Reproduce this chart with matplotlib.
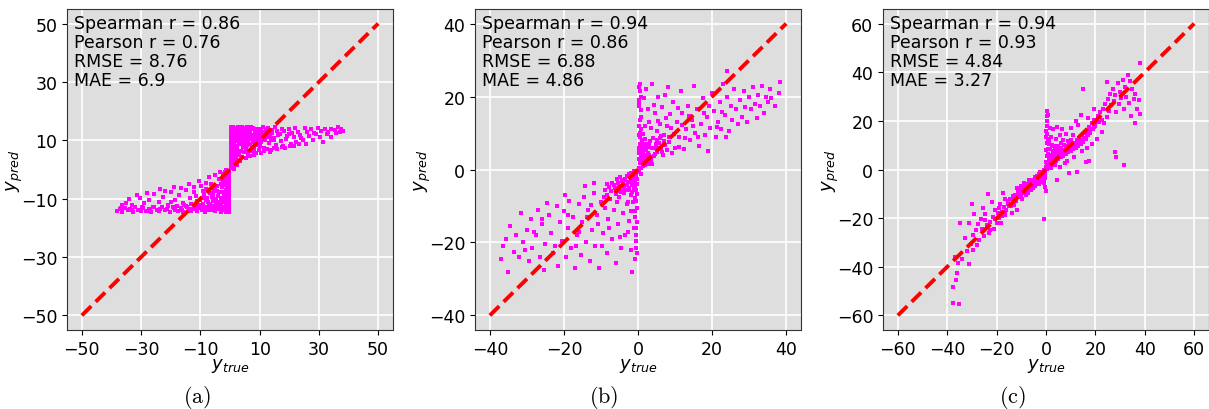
import numpy as np
import matplotlib.pyplot as plt

# panel (a): points (y_true, y_pred)
a_strip = [(0.2,0.4),(0.8,0.9),(0.4,1.5),(1.1,1.9),(0.6,2.6),(0.2,3.1),(0.9,3.6),(0.5,4.2),(1.2,4.7),(0.3,5.3),
           (0.8,5.9),(0.5,6.4),(1.1,6.9),(0.2,7.5),(0.7,8.1),(1.0,8.6),(0.4,9.2),(0.9,9.8),(0.2,10.3),(0.6,10.9),
           (1.2,11.4),(0.4,12.0),(0.8,12.5),(0.3,13.1),(1.0,13.6),(0.5,14.2),(0.9,14.5),(1.3,0.2),(0.7,1.2),(0.3,2.2),
           (1.2,3.2),(0.6,5.0),(1.0,5.5),(0.2,6.1),(0.9,7.2),(0.5,7.8),(1.3,9.0),(0.6,9.5),(0.3,11.2),(1.1,12.2),
           (0.7,13.3),(0.2,14.4),(1.2,10.2),(0.4,0.8),(1.0,2.4),(0.8,4.5),(0.4,8.4),(1.1,13.9),
           (-0.2,-0.5),(-0.8,-1.0),(-0.4,-1.6),(-1.1,-2.1),(-0.6,-2.7),(-0.2,-3.3),(-0.9,-3.8),(-0.5,-4.4),(-1.2,-4.9),
           (-0.3,-5.5),(-0.8,-6.0),(-0.5,-6.6),(-1.1,-7.1),(-0.2,-7.7),(-0.7,-8.2),(-1.0,-8.8),(-0.4,-9.3),(-0.9,-9.9),
           (-0.2,-10.4),(-0.6,-11.0),(-1.2,-11.5),(-0.4,-12.1),(-0.8,-12.6),(-0.3,-13.2),(-1.0,-13.7),(-0.5,-14.3),
           (-0.9,-14.6),(-1.3,-0.3),(-0.7,-1.3),(-0.3,-2.4),(-1.2,-3.0),(-0.6,-5.1),(-1.0,-5.7),(-0.2,-6.3),(-0.9,-7.4),
           (-0.5,-8.0),(-1.3,-9.1),(-0.6,-9.6),(-0.3,-11.3),(-1.1,-12.3),(-0.7,-13.4),(-0.2,-14.5),(-1.2,-10.1),
           (-0.4,-0.9),(-1.0,-2.5),(-0.8,-4.6),(-0.4,-8.5),(-1.1,-14.0),(-1.4,-13.1),(-1.4,-11.9),(-1.5,-14.4)]
a_pos = [(1.5,14.2),(2.1,13.5),(2.8,14.4),(3.3,12.8),(3.9,13.9),(4.5,14.1),(5.2,13.2),(5.8,14.5),(6.4,12.5),(7.1,13.8),
         (7.7,14.3),(8.4,13.1),(9.0,14.0),(9.8,12.7),(10.5,13.6),(11.2,14.4),(12.0,13.0),(12.8,14.2),(13.5,12.2),(14.3,13.7),
         (15.1,14.5),(16.0,13.1),(16.8,12.0),(17.5,14.0),(18.3,13.3),(19.2,11.5),(20.0,13.8),(21.0,12.6),(22.0,14.2),(23.1,13.0),
         (24.0,10.8),(25.2,14.3),(26.1,12.9),(27.3,13.9),(28.5,12.4),(29.6,14.1),(30.8,13.2),(31.9,13.9),(33.0,12.8),(34.2,14.0),
         (35.3,13.5),(36.5,14.4),(37.6,13.8),(38.0,13.2),
         (1.8,10.5),(2.4,8.2),(3.0,11.7),(3.6,6.5),(4.2,9.4),(4.9,11.0),(5.5,7.3),(6.1,10.1),(6.8,8.7),(7.4,11.8),
         (8.0,6.9),(8.7,9.8),(9.4,12.0),(10.1,8.1),(10.8,10.6),(11.6,7.5),(12.4,11.3),(13.1,9.0),(13.9,6.8),(14.7,10.8),
         (15.5,8.4),(16.3,11.7),(17.2,9.6),(18.0,7.9),(18.9,10.4),(19.8,12.3),(20.6,8.8),(21.5,11.0),(22.4,9.3),(23.5,11.9),
         (24.6,10.1),(25.5,8.9),(26.7,11.4),(27.9,10.0),(29.0,12.0),(30.3,11.0),(31.4,9.3),(32.6,12.1),(34.0,11.2),(35.8,12.6),
         (37.0,12.9),
         (2.0,3.5),(2.7,5.1),(3.4,2.8),(4.0,4.3),(4.7,6.0),(5.3,3.9),(6.0,5.4),(6.6,4.6),(7.3,6.2),(8.1,5.0),
         (8.9,5.8),(9.7,6.6),(10.6,5.6),(11.5,6.4),(12.5,7.0),(13.6,6.1),(14.8,7.3),(16.0,7.0),(17.4,7.8),(18.7,7.5),
         (20.2,8.1),(21.7,8.0),(23.2,8.6),
         (1.2,12.0),(1.4,7.9),(1.6,5.5),(2.2,12.6),(2.6,9.9),(3.1,13.0),(3.5,10.7),(3.8,8.6),(4.4,12.3),(5.0,9.0),
         (5.7,12.1),(6.3,13.5),(7.0,10.4),(7.6,9.3),(8.3,12.4),(8.8,10.9),(9.5,13.2),(10.3,11.6),(11.0,12.9),(11.9,10.0),
         (12.7,12.7),(13.4,11.1),(14.2,12.5),(15.0,10.0),(1.3,3.0),(1.7,1.8),(2.3,6.8),(1.1,9.2),(1.9,14.0),(2.5,11.2),
         (3.2,9.0),(4.1,14.4),(4.8,7.9),(5.9,11.5),(6.9,12.2),(8.6,13.9),(9.9,10.3),
         (1.4,13.2),(2.0,11.4),(2.7,13.9),(3.3,10.2),(4.0,12.9),(4.6,10.6),(5.3,14.0),(5.9,9.5),(6.6,11.9),(7.2,14.4),
         (7.9,10.8),(8.5,12.0),(9.2,9.1),(10.0,13.9),(10.7,11.4),(1.3,6.5),(1.9,4.6),(2.5,7.4),(3.1,5.8),(3.7,11.4),
         (4.3,7.7),(5.0,12.7),(5.6,8.5),(6.2,6.2),(6.8,13.1),(7.5,7.6),(8.2,10.0),(9.0,8.3),(9.6,11.1),(10.4,9.3),
         (11.3,11.9),(12.1,13.8),(13.0,13.4),(13.8,10.2),(1.6,2.6),(2.4,1.4),(1.2,1.0)]
a_neg = [(-38.0,-14.2),(-37.1,-13.6),(-36.3,-14.5),(-35.4,-13.1),(-34.5,-14.0),(-33.6,-13.5),(-32.8,-14.4),(-31.9,-12.9),
         (-31.0,-13.9),(-30.1,-14.3),(-29.2,-13.2),(-28.4,-14.1),(-27.5,-13.6),(-26.6,-14.5),(-25.7,-12.8),(-24.8,-13.9),
         (-23.9,-14.3),(-23.0,-13.0),(-22.1,-14.0),(-21.2,-13.5),(-20.3,-14.4),(-19.4,-12.7),(-18.5,-13.8),(-17.6,-14.2),
         (-16.7,-13.1),(-15.8,-14.5),(-14.9,-12.5),(-14.0,-13.7),(-13.1,-14.3),(-12.2,-13.0),(-11.3,-14.1),(-10.4,-12.6),
         (-9.5,-13.9),(-8.6,-14.4),(-7.7,-13.2),(-6.8,-14.0),(-5.9,-12.8),(-5.0,-14.3),(-4.1,-13.5),(-3.2,-14.5),
         (-2.3,-12.9),(-1.5,-14.1),
         (-35.0,-11.6),(-33.2,-12.2),(-30.5,-9.8),(-29.0,-11.5),(-27.2,-10.6),(-25.5,-8.4),(-24.0,-11.2),(-22.6,-9.5),
         (-21.0,-12.0),(-19.8,-7.6),(-18.6,-10.3),(-17.3,-8.8),(-16.0,-11.4),(-14.8,-6.9),(-13.5,-9.9),(-12.3,-7.8),
         (-11.0,-10.9),(-9.8,-5.6),(-8.7,-8.5),(-7.5,-11.3),(-6.5,-4.8),(-5.5,-7.3),(-4.6,-10.2),(-3.7,-3.2),
         (-2.8,-6.1),(-2.0,-8.9),(-1.2,-2.5),(-26.0,-12.7),(-20.0,-11.0),(-15.5,-12.3),(-10.0,-12.0),(-6.0,-12.4),
         (-3.0,-11.8),(-31.5,-8.7),(-28.0,-7.9),(-23.5,-6.8),(-19.0,-5.9),(-14.0,-4.9),(-10.5,-3.9),(-7.0,-2.7),
         (-5.0,-1.8),(-3.5,-1.0),(-12.0,-6.0),(-8.0,-4.5),(-4.5,-5.5),(-2.5,-4.0),(-1.8,-0.8),(-16.5,-6.3),
         (-22.0,-7.5),(-34.0,-10.0),(-36.5,-12.0),(-8.2,-10.5),(-11.5,-9.0),(-6.2,-9.3),(-3.8,-7.8),(-5.1,-6.5),
         (-2.2,-10.8),(-4.0,-12.0),(-7.2,-7.0),(-9.0,-11.8),(-13.0,-11.7),(-17.8,-12.5),(-1.7,-13.2),(-2.6,-13.8),
         (-3.6,-12.6),(-4.8,-13.4),(-1.9,-5.2),(-3.1,-9.6),(-6.6,-13.1),(-8.1,-13.6),
         (-1.4,-12.4),(-2.0,-11.3),(-2.7,-10.1),(-3.3,-13.0),(-4.0,-9.0),(-4.6,-11.6),(-5.3,-13.8),(-5.9,-10.7),
         (-6.6,-8.1),(-7.2,-12.1),(-7.9,-9.6),(-8.5,-12.9),(-9.2,-7.4),(-10.0,-10.3),(-10.7,-13.3),(-1.3,-7.0),
         (-1.9,-4.4),(-2.5,-7.6),(-3.1,-5.0),(-3.7,-11.0),(-4.3,-7.3),(-5.0,-12.5),(-5.6,-8.6),(-6.2,-6.1),
         (-6.8,-11.7),(-7.5,-13.9),(-8.2,-6.6),(-9.0,-9.9),(-9.6,-13.0),(-11.8,-12.0),(-12.6,-13.5),(-14.5,-13.0),
         (-16.2,-13.9),(-18.8,-13.3),(-20.8,-12.5),(-23.5,-13.6),(-27.0,-14.2),(-29.8,-12.8),(-33.0,-13.8),
         (-36.8,-13.2),(-1.6,-3.2),(-2.2,-1.6)]

# panel (b)
b_pos = [(0.3,0.5),(0.5,1.8),(0.7,3.2),(0.4,4.5),(0.9,5.6),(1.2,2.4),(1.5,4.0),(1.8,1.2),(2.1,5.3),(2.4,3.0),
         (2.8,6.2),(3.1,4.1),(3.5,2.2),(3.9,5.8),(4.3,3.6),(4.8,6.9),(5.2,4.8),(5.7,7.3),(6.2,5.5),(6.8,3.9),
         (7.3,6.6),(1.0,7.5),(0.6,8.8),(1.4,9.6),(0.8,11.0),(0.5,13.5),(0.7,16.2),(0.4,19.0),(0.6,21.5),(0.5,23.5),
         (0.3,-0.5),(0.8,-1.2),(1.6,7.0),(2.0,8.3),(2.6,1.5),(3.3,7.8),(4.0,8.6),(0.2,2.8),(0.9,0.3),(1.1,6.3),
         (0.3,6.0),(0.6,7.0),(0.2,9.5),(1.3,4.8),(1.9,3.5),(2.3,6.9),(0.4,12.0),(0.3,17.5),(0.7,20.0),(0.4,22.5),
         (0.5,2.5),(0.9,4.2),(1.3,1.0),(1.7,5.8),(2.2,2.2),(2.6,4.6),(3.0,6.8),(3.4,3.3),(3.8,1.6),(4.2,6.0),
         (4.6,4.2),(5.0,8.0),(5.4,6.0),(6.0,8.5),(6.5,4.7),(7.0,7.8),(7.8,5.3),(8.3,9.0),(0.4,5.2),(0.7,6.4),
         (1.0,8.2),(0.5,10.0),(0.8,14.5),(0.4,18.0),
         (1.5,19.5),(2.2,22.0),(3.0,13.0),(3.8,23.5),(4.5,15.5),(5.0,10.5),(5.5,20.0),(6.0,12.5),(6.5,17.0),(7.0,9.5),
         (7.5,14.0),(8.0,22.5),(8.5,7.5),(9.0,11.5),(9.5,18.5),(10.0,6.0),(10.5,13.0),(11.0,9.0),(11.5,21.5),(12.0,15.5),
         (12.5,5.5),(13.0,11.0),(13.5,17.5),(14.0,8.0),(14.5,13.5),(15.0,23.0),(15.5,10.0),(16.0,16.5),(16.5,6.5),(17.0,12.5),
         (17.5,19.5),(18.0,9.5),(18.5,14.5),(19.0,5.0),(19.5,11.5),(20.0,21.0),(20.5,16.0),(21.0,9.0),(21.5,13.0),(22.0,18.5),
         (22.5,11.0),(23.0,23.5),(23.5,15.0),(24.0,20.0),(24.5,10.5),(25.0,17.5),(25.5,13.5),(26.0,22.0),(26.5,16.5),(27.0,12.5),
         (27.5,19.0),(28.0,14.5),(28.5,21.5),(29.0,17.0),(29.5,13.0),(30.0,20.0),(30.5,16.5),(31.0,22.5),(31.5,18.0),(32.0,14.0),
         (32.5,20.5),(33.0,17.5),(33.5,23.0),(34.0,15.5),(34.5,20.0),(35.0,18.5),(35.5,22.0),(36.0,19.5),(37.0,17.5),(38.0,21.0),
         (38.2,24.0),(24.0,27.0),(3.5,11.5),(4.2,17.8),(5.3,13.2),(6.3,9.1),(7.7,11.8),(8.7,15.1),(9.8,9.7),(10.8,16.9),
         (11.8,12.3),(12.8,8.6),(13.8,14.8),(14.8,11.9),(16.3,8.8),(17.8,15.6),(19.3,17.4),(21.3,11.7),(22.8,15.9),(9.2,4.6),
         (11.2,6.3),(7.2,20.5),(2.8,16.5),(1.9,12.0),(18.8,5.2),(23.8,9.0)]
b_neg = [(-0.3,-0.6),(-0.6,-2.0),(-0.9,-3.4),(-1.2,-1.5),(-1.5,-4.2),(-1.9,-2.7),(-2.3,-5.0),(-2.7,-3.3),(-3.1,-1.9),
         (-3.5,-5.6),(-4.0,-3.9),(-4.5,-6.3),(-5.0,-4.4),(-5.6,-2.6),(-6.2,-5.2),(-6.9,-3.6),(-0.5,-5.5),(-0.8,-7.8),
         (-0.4,-10.5),(-0.7,-13.0),(-0.5,-16.0),(-0.6,-19.5),(-0.4,-23.0),(-0.8,-24.5),(-1.3,-8.8),(-2.0,-7.0),(-2.8,-9.0),
         (-1.0,-0.4),(-0.2,-2.5),(-1.7,-6.2),(-0.3,-4.0),(-1.1,-5.0),(-2.5,-1.2),(-3.8,-2.8),(-4.8,-2.0),(-0.6,-8.5),
         (-0.5,-1.3),(-0.9,-2.6),(-1.3,-3.8),(-1.8,-1.0),(-2.2,-3.4),(-2.6,-5.7),(-3.0,-4.2),(-3.4,-2.5),(-3.9,-5.0),
         (-4.4,-3.2),(-4.9,-5.8),(-5.4,-3.6),(-6.0,-6.6),(-6.6,-4.3),(-7.2,-6.0),(-7.8,-4.8),(-8.5,-6.9),(-9.2,-7.5),
         (-0.4,-6.8),(-0.7,-11.5),(-0.3,-14.5),(-0.5,-18.0),(-0.6,-21.5),(-0.7,-4.5),
         (-37.0,-24.5),(-36.5,-21.0),(-35.5,-19.0),(-35.0,-28.0),(-34.5,-15.5),(-33.5,-22.5),(-33.0,-18.0),(-32.0,-24.0),
         (-31.5,-12.0),(-31.0,-20.0),(-30.0,-16.5),(-29.5,-25.0),(-29.0,-13.5),(-28.5,-21.5),(-27.5,-18.0),(-27.0,-11.0),
         (-26.5,-24.0),(-26.0,-15.0),(-25.5,-27.5),(-25.0,-20.5),(-24.0,-12.5),(-23.5,-17.5),(-23.0,-23.0),(-22.0,-10.0),
         (-21.5,-26.5),(-21.0,-14.5),(-20.5,-19.5),(-20.0,-11.5),(-19.5,-24.0),(-19.0,-16.0),(-18.5,-8.5),(-18.0,-21.5),
         (-17.5,-13.0),(-17.0,-27.0),(-16.5,-18.0),(-16.0,-9.5),(-15.5,-23.5),(-15.0,-14.5),(-14.5,-7.5),(-14.0,-20.0),
         (-13.5,-11.0),(-13.0,-25.0),(-12.5,-16.5),(-12.0,-6.5),(-11.5,-21.0),(-11.0,-12.5),(-10.5,-27.0),(-10.0,-9.0),
         (-9.5,-17.5),(-9.0,-5.5),(-8.5,-23.0),(-8.0,-13.5),(-7.5,-8.0),(-7.0,-19.0),(-6.5,-11.0),(-6.0,-25.5),
         (-5.5,-15.0),(-5.0,-7.5),(-4.5,-21.5),(-4.0,-12.0),(-3.5,-18.0),(-3.0,-9.5),(-2.5,-14.0),(-2.0,-22.0),
         (-1.5,-28.0),(-1.0,-16.0),(-1.8,-11.5),(-24.5,-9.2),(-28.0,-17.0),(-30.5,-22.0),(-22.5,-21.0),(-18.8,-12.5),
         (-15.8,-17.0),(-12.8,-9.8),(-10.8,-15.0),(-8.8,-10.5),(-7.8,-16.0),(-5.8,-9.0),(-4.8,-18.5),(-3.8,-6.5),
         (-2.8,-17.0),(-9.8,-21.0),(-13.8,-13.0),(-16.8,-21.0),(-19.8,-7.0),(-25.8,-13.5),(-11.8,-3.8),(-8.3,-4.0),
         (-14.2,-4.5)]

# panel (c)
c_neg = [(-0.3,-0.5),(-0.6,-1.2),(-0.9,-0.3),(-1.2,-2.0),(-1.5,-1.0),(-1.8,-2.8),(-2.1,-1.5),(-2.5,-3.2),(-2.9,-2.0),
         (-3.3,-4.0),(-3.7,-2.6),(-4.1,-4.6),(-4.6,-3.5),(-5.0,-5.5),(-5.5,-4.2),(-6.0,-6.3),(-6.5,-5.0),(-7.0,-7.2),
         (-7.5,-5.9),(-8.0,-8.0),(-8.5,-6.7),(-9.0,-9.1),(-9.5,-7.5),(-10.0,-10.0),(-10.5,-8.3),(-11.0,-11.2),(-11.5,-9.4),
         (-12.0,-12.0),(-12.5,-10.5),(-13.0,-13.3),(-13.5,-11.0),(-14.0,-14.2),(-14.5,-12.3),(-15.0,-15.0),(-15.5,-13.0),
         (-16.0,-16.5),(-16.5,-12.0),(-17.0,-15.5),(-17.5,-9.5),(-18.0,-17.5),(-18.5,-14.0),(-19.0,-20.0),(-19.5,-18.0),
         (-20.0,-22.0),(-20.5,-16.5),(-21.0,-24.5),(-21.5,-19.5),(-22.0,-13.5),(-22.5,-21.5),(-23.0,-26.0),(-23.5,-10.0),
         (-24.0,-23.0),(-24.5,-18.5),(-25.0,-27.5),(-25.5,-16.0),(-26.0,-24.5),(-26.5,-20.5),(-27.0,-29.0),(-27.5,-22.5),
         (-28.0,-31.0),(-28.5,-25.0),(-29.0,-18.5),(-29.5,-27.0),(-30.0,-14.0),(-30.5,-30.5),(-31.0,-22.0),(-32.0,-33.5),
         (-33.0,-28.0),(-34.0,-37.0),(-35.0,-22.0),(-35.5,-38.5),(-36.0,-42.5),(-36.5,-45.5),(-37.0,-36.0),(-37.5,-48.5),
         (-37.5,-55.0),(-35.2,-55.2),(-31.0,-39.0),(-29.5,-33.0),(-16.8,-18.8),(-18.3,-22.0),(-13.8,-18.0),(-11.8,-16.5),
         (-0.4,-3.5),(-0.7,-5.5),(-0.5,-7.0),(-0.3,-2.2),(-1.0,-4.0),(-1.4,-5.2),(-2.2,-4.5),(-3.0,-6.0),(-3.8,-5.5),
         (-4.5,-6.8),(-5.2,-7.8),(-6.2,-8.5),(-7.2,-9.5),(-8.3,-10.5),(-6.8,-4.2),(-8.8,-5.5),(-10.2,-6.8),(-11.8,-7.5),
         (-9.8,-12.2),(-12.8,-14.5),(-1.0,-20.5),(-0.2,-9.0),(-0.8,-2.5),(-1.6,-3.4),(-2.4,-1.0),(-3.4,-2.5),(-4.3,-3.0),
         (-5.3,-6.5),(-6.3,-7.0),(-7.8,-6.5),(-9.2,-8.3),(-10.8,-9.5),
         (-0.5,-1.5),(-1.1,-2.9),(-1.7,-3.9),(-2.3,-2.4),(-2.8,-4.8),(-3.5,-3.4),(-4.2,-5.6),(-4.9,-4.5),(-5.7,-6.9),
         (-6.4,-5.8),(-7.1,-8.3),(-7.9,-7.3),(-8.7,-9.6),(-9.4,-8.4),(-10.3,-11.1),(-11.2,-10.0),(-12.2,-13.1),
         (-13.2,-12.0),(-14.3,-15.2),(-15.3,-14.2),(-16.5,-17.5),(-17.8,-19.0),(-19.2,-16.0),(-20.8,-20.5),
         (-22.8,-24.8),(-24.8,-20.8)]
c_pos = [(0.2,1.0),(0.2,3.0),(0.3,5.5),(0.2,8.0),(0.3,11.0),(0.2,13.5),(0.2,16.0),(0.3,18.0),(0.3,22.0),(0.4,24.0),
         (0.8,22.5),(0.6,20.0),
         (0.5,0.3),(0.9,1.5),(1.2,0.8),(1.5,2.5),(1.8,1.2),(2.1,3.3),(2.4,2.0),(2.8,4.0),(3.2,2.7),(3.6,5.0),(4.0,3.5),
         (4.5,5.8),(5.0,4.2),(5.5,6.5),(6.0,5.0),(6.5,7.2),(7.0,5.7),(7.5,8.0),(8.0,6.3),(8.5,8.8),(9.0,7.0),(9.5,9.5),
         (10.0,7.6),(10.5,10.2),(11.0,8.3),(11.5,11.0),(12.0,9.0),(12.5,12.0),(13.0,9.8),(13.5,13.0),(14.0,10.5),
         (14.5,14.0),(15.0,11.5),(15.5,15.0),(16.0,12.5),(16.5,16.2),(17.0,14.0),(17.5,17.5),(18.0,15.0),(18.5,19.0),
         (19.0,16.5),(19.5,20.5),(20.0,18.0),(21.0,22.0),(21.5,19.5),(22.0,23.5),(22.5,20.5),(23.0,25.0),(23.5,19.0),
         (24.0,27.0),(24.5,21.5),(25.0,29.0),(25.5,24.0),(26.0,31.0),(26.5,26.5),(27.0,33.0),(27.5,28.0),(28.0,30.5),
         (28.5,23.5),(29.0,35.5),(29.5,27.0),(30.0,32.0),(30.5,29.5),(31.0,37.0),(31.5,25.0),(32.0,34.0),(32.5,30.0),
         (33.0,39.0),(33.5,27.5),(34.0,36.5),(34.5,22.0),(35.0,33.0),(35.5,29.0),(36.0,31.0),(37.0,25.0),(37.5,28.5),
         (38.0,23.0),(38.0,44.0),(15.0,33.0),(28.0,7.0),(28.2,5.0),(31.5,2.0),(17.5,3.5),(24.5,36.0),(36.0,19.0),
         (1.5,17.0),(2.0,13.5),(2.5,10.0),(3.0,16.5),(3.5,8.5),(4.0,12.5),(4.5,17.5),(5.0,9.5),(5.5,14.0),(6.0,11.0),
         (6.5,16.8),(7.0,12.0),(8.0,14.5),(9.0,11.8),(10.0,17.0),(11.0,14.0),(12.0,20.0),(13.0,18.5),(14.0,22.5),
         (7.5,2.5),(9.5,-1.5),(12.5,-1.0),(4.5,-4.5),(2.0,6.0),(3.0,7.5),(1.2,4.5),(5.5,1.0),(8.5,3.5),(11.5,5.0),
         (14.5,7.5),(16.5,9.0),(18.5,10.5),(20.5,12.5),(22.5,15.5),(19.5,25.0),(17.0,21.0),(16.0,3.0),
         (1.0,6.5),(1.7,8.5),(2.6,5.2),(3.4,9.6),(4.3,7.0),(5.2,8.2),(6.2,9.0),(7.2,10.0),(8.2,9.6),(9.3,10.4),
         (10.3,12.1),(0.9,3.2),(1.4,10.5),(0.7,12.5),(2.2,0.5),(3.8,1.8),
         (0.6,1.8),(1.1,3.5),(1.6,4.2),(2.2,2.6),(2.9,6.3),(3.6,3.8),(4.3,5.1),(5.1,6.8),(5.9,6.0),(6.7,8.2),
         (7.5,6.8),(8.3,7.9),(9.1,8.6),(10.0,9.3),(10.9,9.0),(11.8,10.1),(12.7,10.8),(13.6,11.8),(14.5,12.2),
         (15.5,13.0),(16.5,14.5),(17.5,15.8),(18.5,16.8),(19.5,17.5),(20.5,19.5),(0.7,8.5),(0.5,14.8),(1.1,12.0)]

panels = [
    (a_strip + a_pos + a_neg, 50, [-50, -30, -10, 10, 30, 50], ["Spearman r = 0.86", "Pearson r = 0.76", "RMSE = 8.76", "MAE = 6.9"], "(a)"),
    (b_pos + b_neg, 40, [-40, -20, 0, 20, 40], ["Spearman r = 0.94", "Pearson r = 0.86", "RMSE = 6.88", "MAE = 4.86"], "(b)"),
    (c_neg + c_pos, 60, [-60, -40, -20, 0, 20, 40, 60], ["Spearman r = 0.94", "Pearson r = 0.93", "RMSE = 4.84", "MAE = 3.27"], "(c)"),
]

fig = plt.figure(figsize=(12.09, 4.10), dpi=100)
lefts = [67, 475, 883]
caption_x = [197, 604, 1012]

for i, (pts, lim, ticks, stats, cap) in enumerate(panels):
    ax = fig.add_axes([lefts[i] / 1209, 79 / 410, 326 / 1209, 321 / 410])
    ax.set_facecolor("#dedede")
    ax.set_axisbelow(True)
    ax.grid(color="white", linewidth=1.2)
    pts = np.array(pts)
    ax.scatter(pts[:, 0], pts[:, 1], s=7, marker="s", color="#ff00ff", linewidths=0, zorder=2)
    ax.plot([-lim, lim], [-lim, lim], color="red", linestyle="--", linewidth=2.8,
            dashes=(3.4, 1.6), zorder=3)
    ax.set_xlim(-lim * 1.1, lim * 1.1)
    ax.set_ylim(-lim * 1.1, lim * 1.1)
    ax.set_xticks(ticks)
    ax.set_yticks(ticks)
    ax.tick_params(labelsize=12.5)
    for sp in ax.spines.values():
        sp.set_color("#333333")
    ax.set_xlabel(r"$y_{true}$", fontsize=13, labelpad=-1)
    ax.set_ylabel(r"$y_{pred}$", fontsize=13, labelpad=-3)
    ax.text(0.022, 0.985, "\n".join(stats), transform=ax.transAxes, va="top", ha="left",
            fontsize=12.5, linespacing=1.08)
    fig.text(caption_x[i] / 1209, 12 / 410, r"$\mathrm{" + cap + "}$", ha="center", va="center",
             fontsize=16, math_fontfamily="cm")

fig.savefig("out.png", dpi=100)
